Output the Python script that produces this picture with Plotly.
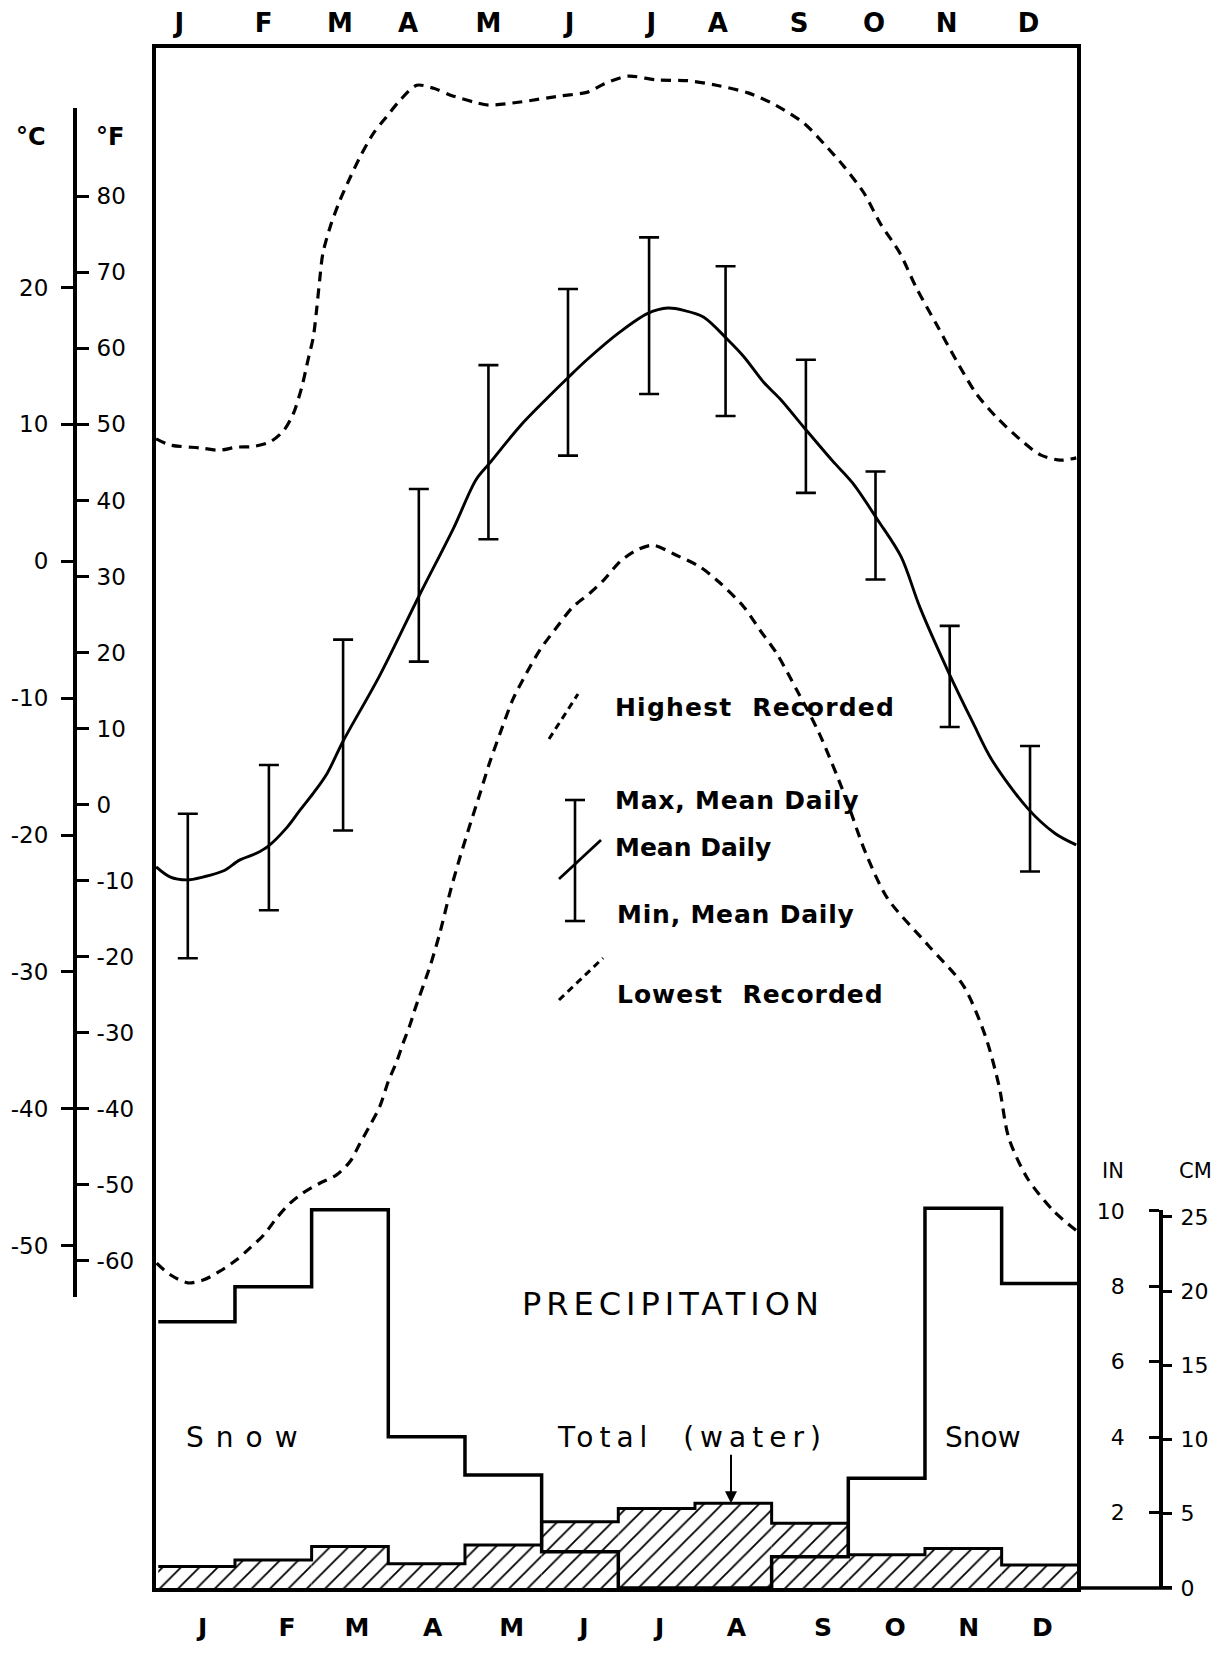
import plotly.graph_objects as go

# ---------------- data ----------------
months = ["J", "F", "M", "A", "M", "J", "J", "A", "S", "O", "N", "D"]

# month positions of the tick letters (Jan = 0)
top_tick_month = [-0.11, 0.99, 1.99, 2.88, 3.93, 4.99, 6.06, 6.93, 7.99, 8.97, 9.92, 10.99]
bottom_tick_bin = [0.58, 1.68, 2.59, 3.58, 4.61, 5.55, 6.54, 7.54, 8.67, 9.61, 10.57, 11.53]

# error bars: max / min mean daily (deg F)
bar_month = [0, 1.06, 2.03, 3.02, 3.93, 4.97, 6.03, 7.03, 8.08, 8.99, 9.96, 11.01]
max_mean_daily_F = [-1.2, 5.2, 21.7, 41.5, 57.8, 67.8, 74.6, 70.8, 58.5, 43.8, 23.5, 7.7]
min_mean_daily_F = [-20.2, -13.9, -3.4, 18.8, 34.9, 45.9, 54.0, 51.1, 41.0, 29.6, 10.2, -8.8]

# mean daily curve (deg F)
mean_month = [-0.414, -0.234, -0.014, 0.207, 0.469, 0.676, 0.897, 1.048, 1.297, 1.462, 1.641,
              1.821, 2.028, 2.510, 3.021, 3.476, 3.766, 3.945, 4.345, 4.703, 4.966, 5.228,
              5.655, 6.014, 6.276, 6.483, 6.745, 7.062, 7.269, 7.531, 7.738, 8.055, 8.428,
              8.690, 9.021, 9.324, 9.572, 9.945, 10.262, 10.510, 10.979, 11.338, 11.614]
mean_F = [-8.2, -9.5, -9.9, -9.5, -8.7, -7.3, -6.4, -5.5, -3.0, -0.8, 1.5,
          4.1, 8.3, 17.0, 27.4, 36.4, 42.7, 44.9, 49.8, 53.5, 56.1, 58.6,
          62.2, 64.6, 65.3, 65.0, 64.1, 61.1, 58.9, 55.5, 53.4, 49.6, 45.2,
          42.3, 37.4, 32.6, 25.9, 17.4, 10.8, 5.9, -0.5, -3.8, -5.3]

# highest recorded (deg F)
high_month = [-0.414, -0.234, 0.166, 0.414, 0.634, 0.855, 1.076, 1.255, 1.379, 1.490, 1.572,
              1.641, 1.683, 1.724, 1.766, 1.862, 1.986, 2.124, 2.248, 2.428, 2.593, 2.772,
              2.993, 3.214, 3.434, 3.738, 3.931, 4.345, 4.869, 5.228, 5.448, 5.752, 6.124,
              6.538, 6.910, 7.324, 7.683, 8.055, 8.317, 8.579, 8.841, 9.048, 9.310, 9.517,
              9.779, 10.041, 10.303, 10.566, 10.883, 11.145, 11.407, 11.614]
high_F = [48.1, 47.3, 46.9, 46.6, 47.0, 47.1, 47.7, 49.2, 51.4, 54.9, 58.5,
          61.5, 65.0, 69.0, 72.5, 76.0, 79.4, 82.5, 85.1, 88.3, 90.4, 92.6,
          94.6, 94.2, 93.3, 92.4, 92.0, 92.4, 93.2, 93.7, 94.8, 95.8, 95.3,
          95.2, 94.6, 93.6, 92.0, 89.6, 86.9, 83.9, 80.4, 76.5, 72.5, 68.1,
          63.3, 58.5, 54.1, 51.0, 48.0, 46.0, 45.3, 45.6]

# lowest recorded (deg F)
low_month = [-0.407, -0.234, 0.0, 0.207, 0.414, 0.634, 0.814, 0.993, 1.159, 1.338, 1.503,
             1.724, 1.945, 2.124, 2.248, 2.386, 2.510, 2.621, 2.731, 2.814, 2.910, 2.966,
             3.172, 3.297, 3.434, 3.559, 3.697, 3.821, 3.945, 4.083, 4.248, 4.428, 4.607,
             4.828, 5.034, 5.255, 5.434, 5.655, 5.876, 6.083, 6.386, 6.690, 6.952, 7.269,
             7.476, 7.697, 7.959, 8.248, 8.593, 8.855, 9.145, 9.669, 10.138, 10.428,
             10.607, 10.731, 10.979, 11.324, 11.614]
low_F = [-60.3, -61.8, -62.9, -62.5, -61.4, -59.9, -58.3, -56.6, -54.4, -52.4, -51.1,
         -49.8, -48.7, -46.9, -44.6, -42.1, -39.7, -36.4, -33.8, -31.4, -28.8, -27.0,
         -21.1, -16.8, -11.3, -6.9, -2.4, 1.5, 5.5, 9.4, 13.8, 17.3, 20.4,
         23.4, 26.0, 27.8, 29.5, 32.0, 33.5, 34.1, 32.8, 31.3, 29.2, 26.0,
         23.0, 19.9, 15.1, 9.5, 1.1, -6.2, -12.3, -18.4, -23.8, -30.5,
         -37.1, -43.8, -49.2, -53.5, -56.0]

# precipitation (inches), one value per month
snow_in = [7.06, 7.99, 10.03, 4.01, 3.0, 0.96, 0.0, 0.0, 0.83, 2.91, 10.07, 8.08]
water_in = [0.57, 0.74, 1.10, 0.64, 1.14, 1.76, 2.11, 2.25, 1.72, 0.88, 1.05, 0.61]

degF_ticks = [-60, -50, -40, -30, -20, -10, 0, 10, 20, 30, 40, 50, 60, 70, 80]
degC_ticks = [-50, -40, -30, -20, -10, 0, 10, 20]
in_ticks = [2, 4, 6, 8, 10]
cm_ticks = [0, 5, 10, 15, 20, 25]

# ---------------- layout geometry (page pixels) ----------------
OFF = 8                       # default body margin of the html page
W, H = 1225 - 2 * OFF, 1655 - 2 * OFF
TOP, BOT = 48, 1588           # plot area top / bottom on the page
PH = BOT - TOP
X0, X1 = 156, 1077            # frame left / right on the page
FONT = "DejaVu Sans"

def px(x):
    return (x - OFF) / W

def py(y):
    return (BOT - y) / PH

# temperature y: page y = 804.6 - 7.604*F
F_top = (804.6 - TOP) / 7.604
F_bot = (804.6 - BOT) / 7.604
ax_top, ax_bot = 108, 1297
Fd_top = (804.6 - ax_top) / 7.604
Fd_bot = (804.6 - ax_bot) / 7.604
# precipitation: 37.7 px per inch, 0 at frame bottom
PPI = 37.7
in_top = 10.02
in_dom = in_top * PPI / PH

fig = go.Figure()

# hatched total water
fig.add_trace(go.Bar(
    x=[i + 0.5 for i in range(12)], y=water_in, width=1.0,
    xaxis="x2", yaxis="y4",
    marker=dict(color="white", line=dict(width=0),
                pattern=dict(shape="/", fgcolor="black", bgcolor="white", size=13, solidity=0.14)),
    showlegend=False, hoverinfo="skip"))
fig.add_trace(go.Scatter(
    x=list(range(13)), y=water_in + [water_in[-1]], xaxis="x2", yaxis="y4",
    mode="lines", line=dict(shape="hv", color="black", width=3),
    showlegend=False, hoverinfo="skip"))
fig.add_trace(go.Scatter(
    x=list(range(13)), y=snow_in + [snow_in[-1]], xaxis="x2", yaxis="y4",
    mode="lines", line=dict(shape="hv", color="black", width=3.5),
    showlegend=False, hoverinfo="skip"))

# temperature curves
fig.add_trace(go.Scatter(x=high_month, y=high_F, mode="lines",
                         line=dict(color="black", width=3.2, dash="10px,7px", shape="spline", smoothing=0.8),
                         showlegend=False, hoverinfo="skip"))
fig.add_trace(go.Scatter(x=low_month, y=low_F, mode="lines",
                         line=dict(color="black", width=3.2, dash="10px,7px", shape="spline", smoothing=0.8),
                         showlegend=False, hoverinfo="skip"))
fig.add_trace(go.Scatter(x=mean_month, y=mean_F, mode="lines",
                         line=dict(color="black", width=2.9, shape="spline", smoothing=0.9),
                         showlegend=False, hoverinfo="skip"))
fig.add_trace(go.Scatter(
    x=bar_month, y=max_mean_daily_F, mode="markers",
    marker=dict(size=1, color="rgba(0,0,0,0)"),
    error_y=dict(type="data", symmetric=False, array=[0] * len(bar_month),
                 arrayminus=[a - b for a, b in zip(max_mean_daily_F, min_mean_daily_F)],
                 color="black", thickness=2.6, width=10),
    showlegend=False, hoverinfo="skip"))

# dummy traces so the display axes get drawn
for ya in ["y2", "y3", "y5", "y6"]:
    fig.add_trace(go.Scatter(x=[None], y=[None], xaxis="x", yaxis=ya, showlegend=False, hoverinfo="skip"))

tickfont = dict(family=FONT, size=23, color="black")
monthfont = dict(family=FONT, size=26, color="black", weight="bold")
bottommonthfont = dict(family=FONT, size=25, color="black", weight="bold")

fig.update_layout(
    width=W, height=H, template="none",
    margin=dict(l=0, r=0, t=TOP - OFF, b=(H + OFF) - BOT, pad=0),
    paper_bgcolor="white", plot_bgcolor="rgba(0,0,0,0)",
    showlegend=False, hovermode=False,
    xaxis=dict(domain=[px(X0), px(X1)], range=[-0.4157, 11.624], anchor="y", side="top",
               showline=True, mirror=True, linewidth=3.5, linecolor="black",
               tickmode="array", tickvals=top_tick_month, ticktext=months, ticks="",
               tickfont=monthfont, ticklabelstandoff=2,
               showgrid=False, zeroline=False, automargin=False),
    xaxis2=dict(overlaying="x", range=[-0.030, 11.983], anchor="y", side="bottom",
                showline=False, tickmode="array", tickvals=bottom_tick_bin, ticktext=months, ticks="",
                tickfont=bottommonthfont, ticklabelstandoff=22,
                showgrid=False, zeroline=False, automargin=False),
    yaxis=dict(domain=[0, 1], range=[F_bot, F_top], showline=True, mirror=True,
               linewidth=3.5, linecolor="black", showticklabels=False, ticks="",
               showgrid=False, zeroline=False, automargin=False),
    yaxis4=dict(overlaying="y", range=[0, PH / PPI], visible=False, anchor="x2"),
    yaxis2=dict(domain=[py(ax_bot), py(ax_top)], range=[Fd_bot, Fd_top],
                anchor="free", position=px(75), side="right",
                showline=True, linewidth=4, linecolor="black",
                tickmode="array", tickvals=degF_ticks, ticktext=[str(v) for v in degF_ticks],
                ticks="outside", ticklen=12, tickwidth=2.5, tickcolor="black",
                tickfont=tickfont, ticklabelstandoff=3,
                showgrid=False, zeroline=False, automargin=False),
    yaxis3=dict(domain=[py(ax_bot), py(ax_top)], range=[(Fd_bot - 32) / 1.8, (Fd_top - 32) / 1.8],
                anchor="free", position=px(75), side="left",
                showline=False,
                tickmode="array", tickvals=degC_ticks, ticktext=[str(v) for v in degC_ticks],
                ticks="outside", ticklen=14, tickwidth=2.5, tickcolor="black",
                tickfont=tickfont, ticklabelstandoff=8,
                showgrid=False, zeroline=False, automargin=False),
    yaxis5=dict(domain=[0, in_dom], range=[0, in_top],
                anchor="free", position=px(1161), side="left",
                showline=True, linewidth=3.5, linecolor="black",
                tickmode="array", tickvals=in_ticks, ticktext=[str(v) for v in in_ticks],
                ticks="outside", ticklen=10, tickwidth=2.5, tickcolor="black",
                tickfont=dict(family=FONT, size=22, color="black"), ticklabelstandoff=20,
                showgrid=False, zeroline=False, automargin=False),
    yaxis6=dict(domain=[0, in_dom], range=[0, in_top * 2.54],
                anchor="free", position=px(1161), side="right",
                showline=False,
                tickmode="array", tickvals=cm_ticks, ticktext=[str(v) for v in cm_ticks],
                ticks="outside", ticklen=10, tickwidth=2.5, tickcolor="black",
                tickfont=dict(family=FONT, size=22, color="black"), ticklabelstandoff=4,
                showgrid=False, zeroline=False, automargin=False),
)

# ---------------- text ----------------
def note(text, x, y, size, xanchor="center", bold=False, spacing=0):
    t = text
    if spacing:
        t = '<span style="letter-spacing:%spx">%s</span>' % (spacing, text)
    f = dict(family=FONT, size=size, color="black")
    if bold:
        f["weight"] = "bold"
    fig.add_annotation(text=t, x=px(x), y=py(y), xref="paper", yref="paper",
                       xanchor=xanchor, yanchor="middle", showarrow=False, font=f)

note("°C", 31, 137, 24, bold=True)
note("°F", 110, 137, 24, bold=True)
note("IN", 1113, 1171, 21)
note("CM", 1195, 1171, 21)

note("Highest  Recorded", 613, 707, 25, xanchor="left", bold=True, spacing=1.2)
note("Max, Mean Daily", 613, 800, 25, xanchor="left", bold=True, spacing=0.8)
note("Mean Daily", 613, 847, 25, xanchor="left", bold=True)
note("Min, Mean Daily", 615, 914, 25, xanchor="left", bold=True, spacing=0.8)
note("Lowest  Recorded", 615, 994, 25, xanchor="left", bold=True, spacing=1.0)

note("PRECIPITATION", 673, 1304, 32, spacing=5)
note("Snow", 248, 1437, 28, spacing=12)
note("Total  (water)", 692, 1437, 28, spacing=6)
note("Snow", 983, 1437, 28)

# arrow from "Total (water)" to the August total
fig.add_annotation(x=7.47, y=water_in[7], xref="x2", yref="y4", text="",
                   showarrow=True, ax=0, ay=-50, arrowhead=2, arrowsize=1.2,
                   arrowwidth=2, arrowcolor="black")

# ---------------- legend samples & baseline extension ----------------
def seg(x0, y0, x1, y1, width=3, dash=None):
    ln = dict(color="black", width=width)
    if dash:
        ln["dash"] = dash
    fig.add_shape(type="line", xref="paper", yref="paper",
                  x0=px(x0), y0=py(y0), x1=px(x1), y1=py(y1), line=ln)

seg(549, 739, 578, 694, 3, "7px,5px")
seg(575, 800, 575, 921, 2.6)
seg(565, 800, 585, 800, 2.6)
seg(565, 921, 585, 921, 2.6)
seg(559, 879, 601, 840, 2.8)
seg(559, 1000, 603, 958, 3, "7px,5px")
seg(X1, BOT, 1172, BOT, 3.5)

fig.write_html("out.html")
